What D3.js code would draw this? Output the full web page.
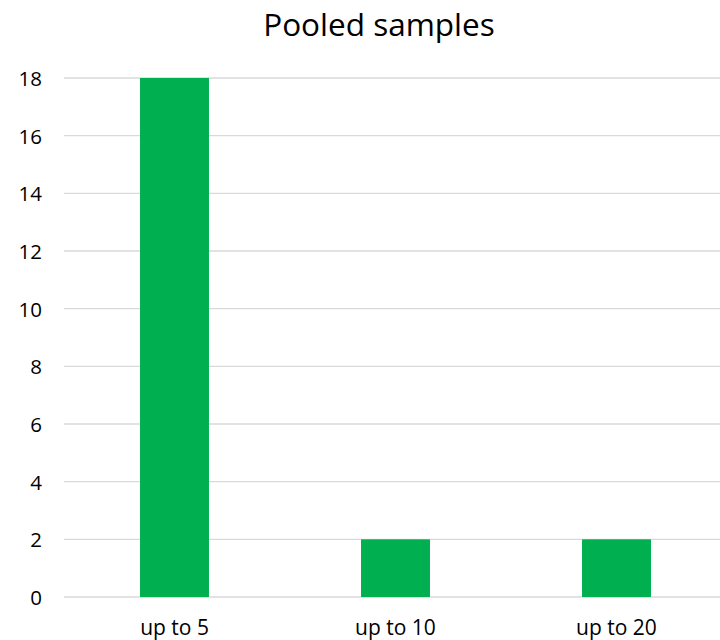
<!DOCTYPE html>
<html><head><meta charset="utf-8">
<script src="https://cdn.jsdelivr.net/npm/d3@7"></script>
<style>body{margin:0;background:#fff}svg{display:block}</style>
</head><body>
<script>
const categories = ["up to 5", "up to 10", "up to 20"];
const values = [18, 2, 2];
const yTicks = [0, 2, 4, 6, 8, 10, 12, 14, 16, 18];
const title = "Pooled samples";

const W = 720, H = 640;
const svg = d3.select("body").append("svg").attr("width", W).attr("height", H);
const font = "'Open Sans', sans-serif";

const x = d3.scaleBand().domain(categories).range([64, 727]).paddingInner(0.688).paddingOuter(0.344);
const y = d3.scaleLinear().domain([0, 18]).range([597, 78]);

svg.append("g").selectAll("line").data(yTicks).join("line")
  .attr("x1", 64).attr("x2", 727)
  .attr("y1", d => y(d)).attr("y2", d => y(d))
  .attr("stroke", "#d9d9d9").attr("stroke-width", 1.3);

svg.append("g").selectAll("rect").data(values).join("rect")
  .attr("x", (d, i) => x(categories[i]))
  .attr("width", x.bandwidth())
  .attr("y", d => y(d))
  .attr("height", d => y(0) - y(d))
  .attr("fill", "#00b050");

const yAxis = d3.axisLeft(y).tickValues(yTicks).tickSize(0).tickPadding(0);
const ga = svg.append("g").attr("transform", "translate(42,0)").call(yAxis);
ga.select(".domain").remove();
ga.selectAll("text").attr("font-family", font).attr("font-size", 20.5).attr("fill", "#000").attr("dy", "0.36em");

const xAxis = d3.axisBottom(x).tickSize(0).tickPadding(0);
const gx = svg.append("g").attr("transform", "translate(0,635)").call(xAxis);
gx.select(".domain").remove();
gx.selectAll("text").attr("font-family", font).attr("font-size", 21).attr("fill", "#000").attr("y", 0).attr("dy", 0);

svg.append("text").attr("x", 379).attr("y", 36).attr("text-anchor", "middle")
  .attr("font-family", font).attr("font-size", 31.5).attr("fill", "#000").text(title);
</script>
</body></html>
